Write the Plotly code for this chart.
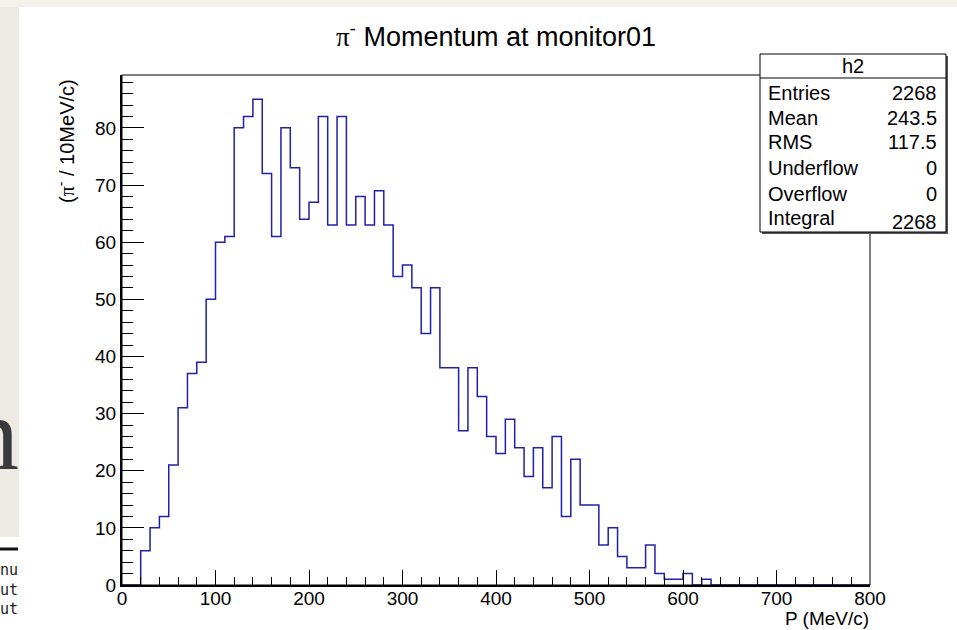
import plotly.graph_objects as go

# ---------------- data ----------------
bin_width = 10
x_min, x_max = 0, 800
counts = [0, 0, 6, 10, 12, 21, 31, 37, 39, 50,
          60, 61, 80, 82, 85, 72, 61, 80, 73, 64,
          67, 82, 63, 82, 63, 68, 63, 69, 63, 54,
          56, 52, 44, 52, 38, 38, 27, 38, 33, 26,
          23, 29, 24, 19, 24, 17, 26, 12, 22, 14,
          14, 7, 10, 5, 3, 3, 7, 2, 1, 1,
          2, 0, 1, 0, 0, 0, 0, 0, 0, 0,
          0, 0, 0, 0, 0, 0, 0, 0, 0, 0]
stat_labels = ["Entries", "Mean", "RMS", "Underflow", "Overflow", "Integral"]
stat_values = ["2268", "243.5", "117.5", "0", "0", "2268"]
hist_name = "h2"
title_text = '<span style="font-family:Liberation Serif">π</span><sup>-</sup> Momentum at monitor01'
ytitle_text = '(<span style="font-family:Liberation Serif">π</span><sup>-</sup> / 10MeV/c)'
xtitle_text = "P (MeV/c)"

# ---------------- layout geometry (pixels) ----------------
W, H = 957, 630
PL, PR, PT, PB = 122, 870, 75, 585
ymax = max(counts) * 1.05


def px(xp):
    return (xp - PL) / (PR - PL)


def py(yp):
    return (PB - yp) / (PB - PT)


edges = [x_min + i * bin_width for i in range(len(counts) + 1)]
ystep = counts + [counts[-1]]

fig = go.Figure()
fig.add_trace(go.Scatter(x=edges, y=ystep, mode="lines", line_shape="hv",
                         line=dict(color="#2020A8", width=1.5), hoverinfo="skip",
                         showlegend=False))

FONT = "Liberation Sans, Arial, Helvetica, sans-serif"
shapes = []
# background of screenshot
shapes.append(dict(type="rect", xref="paper", yref="paper", x0=px(0), x1=px(W), y0=py(7), y1=py(0),
                   fillcolor="#F4F1EA", line=dict(width=0), layer="below"))
shapes.append(dict(type="rect", xref="paper", yref="paper", x0=px(0), x1=px(19), y0=py(537), y1=py(7),
                   fillcolor="#EDEAE4", line=dict(width=0), layer="below"))
shapes.append(dict(type="line", xref="paper", yref="paper", x0=px(0), x1=px(18), y0=py(549), y1=py(549),
                   line=dict(color="#111111", width=3)))
# frame
shapes.append(dict(type="rect", xref="paper", yref="paper", x0=0, x1=1, y0=0, y1=1,
                   line=dict(color="black", width=1), layer="above"))
# stats box shadow + box
shapes.append(dict(type="rect", xref="paper", yref="paper", x0=px(762), x1=px(948), y0=py(234), y1=py(56),
                   fillcolor="#555555", line=dict(width=0), layer="above"))
shapes.append(dict(type="rect", xref="paper", yref="paper", x0=px(760), x1=px(946), y0=py(232), y1=py(54),
                   fillcolor="white", line=dict(color="black", width=1), layer="above"))
shapes.append(dict(type="line", xref="paper", yref="paper", x0=px(760), x1=px(946), y0=py(78), y1=py(78),
                   line=dict(color="black", width=1), layer="above"))

ann = []
ann.append(dict(text=hist_name, x=px(853), y=py(66), xref="paper", yref="paper", showarrow=False,
                xanchor="center", yanchor="middle", font=dict(family=FONT, size=20, color="black")))
row_y = [93, 118, 142, 168, 194, 218]
val_y = [93, 118, 142, 168, 194, 222]
for lab, val, ly, vy in zip(stat_labels, stat_values, row_y, val_y):
    ann.append(dict(text=lab, x=px(766), y=py(ly), xref="paper", yref="paper", showarrow=False,
                    xanchor="left", yanchor="middle", font=dict(family=FONT, size=20, color="black")))
    ann.append(dict(text=val, x=px(939), y=py(vy), xref="paper", yref="paper", showarrow=False,
                    xanchor="right", yanchor="middle", font=dict(family=FONT, size=20, color="black")))
# axis titles
ann.append(dict(text=ytitle_text, x=px(65), y=py(77), xref="paper", yref="paper", showarrow=False,
                textangle=-90, xanchor="center", yanchor="top", font=dict(family=FONT, size=20, color="black")))
ann.append(dict(text=xtitle_text, x=px(871), y=py(618), xref="paper", yref="paper", showarrow=False,
                xanchor="right", yanchor="middle", font=dict(family=FONT, size=19, color="black")))
# screenshot leftovers
ann.append(dict(text="n", x=px(21), y=py(434), xref="paper", yref="paper", showarrow=False,
                xanchor="right", yanchor="middle",
                font=dict(family="Liberation Serif, serif", size=104, color="#3a3a3a")))
for t, yy in zip(["nu", "ut", "ut"], [570, 590, 609]):
    ann.append(dict(text=t, x=px(20), y=py(yy), xref="paper", yref="paper", showarrow=False,
                    xanchor="right", yanchor="middle",
                    font=dict(family="DejaVu Sans Mono, monospace", size=15, color="#222222")))

fig.update_layout(
    width=W, height=H, autosize=False,
    margin=dict(l=PL, r=W - PR, t=PT, b=H - PB, pad=0),
    paper_bgcolor="white", plot_bgcolor="white",
    title=dict(text=title_text, x=0.5, xref="paper", xanchor="center",
               y=1 - 37 / H, yref="container", yanchor="middle",
               font=dict(family=FONT, size=27, color="black")),
    xaxis=dict(range=[x_min, x_max], showline=True, linecolor="black", linewidth=2,
               ticks="inside", ticklen=15, tickwidth=1, tickcolor="black", dtick=100, tick0=0,
               minor=dict(ticks="inside", ticklen=8, dtick=20, tickcolor="black", tickwidth=1),
               showgrid=False, zeroline=False, ticklabelstandoff=-5,
               tickfont=dict(family=FONT, size=19, color="black")),
    yaxis=dict(range=[0, ymax], showline=True, linecolor="black", linewidth=2,
               ticks="inside", ticklen=22, tickwidth=1, tickcolor="black", dtick=10, tick0=0,
               minor=dict(ticks="inside", ticklen=11, dtick=2, tickcolor="black", tickwidth=1),
               showgrid=False, zeroline=False,
               tickfont=dict(family=FONT, size=19, color="black")),
    shapes=shapes, annotations=ann, showlegend=False,
)

fig.write_html("out.html")
